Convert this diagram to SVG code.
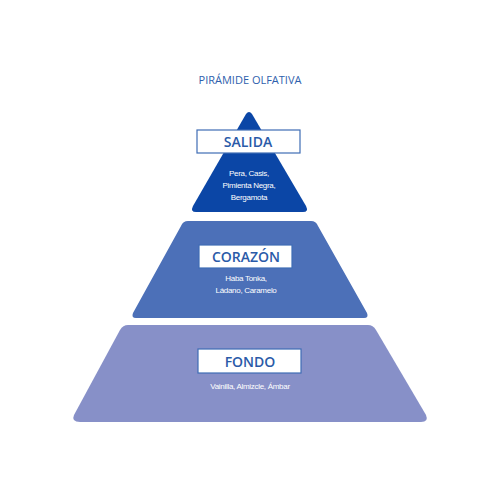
<svg xmlns="http://www.w3.org/2000/svg" width="500" height="500" viewBox="0 0 500 500">
<style>
.title{font-family:"Open Sans","Liberation Sans",sans-serif;font-size:11px;fill:#2f5fad;text-anchor:middle}
.box{fill:#ffffff;stroke:#3f6db5;stroke-width:1.2}
.lbl{font-family:"Open Sans","Liberation Sans",sans-serif;font-size:14px;font-weight:600;fill:#2a5aa8;text-anchor:middle}
.note{font-family:"Liberation Sans",sans-serif;font-size:8px;fill:#ffffff;text-anchor:middle;letter-spacing:-0.3px}
</style>
<rect width="500" height="500" fill="#ffffff"/>
<text class="title" x="250" y="84">PIRÁMIDE OLFATIVA</text>
<g id="fondo">
<path d="M128,325 L368,325 Q373,325 376,330 L426,415 Q429,422 421,422 L80,422 Q71,422 74,415 L120,330 Q123,325 128,325 Z" fill="#8790c8"/>
<rect class="box" x="198" y="349" width="103" height="24"/>
<text class="lbl" x="250" y="367">FONDO</text>
<text class="note" x="250" y="389">Vainilla, Almizcle, Ámbar</text>
</g>
<g id="corazon">
<path d="M188,221 L311,221 Q316,221 318,226 L367,313 Q369,318 364,318 L136,318 Q131,318 133,313 L181,226 Q183,221 188,221 Z" fill="#4c70b8"/>
<rect class="box" x="199" y="245" width="93" height="23"/>
<text class="lbl" x="246" y="262">CORAZÓN</text>
<text class="note" x="246" y="281">Haba Tonka,</text>
<text class="note" x="246" y="293">Ládano, Caramelo</text>
</g>
<g id="salida">
<path d="M246,114 Q249,110 252,114 L306,206 Q309,212 303,212 L196,212 Q190,212 193,206 Z" fill="#0b46a6"/>
<rect class="box" x="197" y="130" width="103" height="23"/>
<text class="lbl" x="248" y="147">SALIDA</text>
<text class="note" x="249" y="176">Pera, Casis,</text>
<text class="note" x="249" y="188">Pimienta Negra,</text>
<text class="note" x="249" y="200">Bergamota</text>
</g>
</svg>
